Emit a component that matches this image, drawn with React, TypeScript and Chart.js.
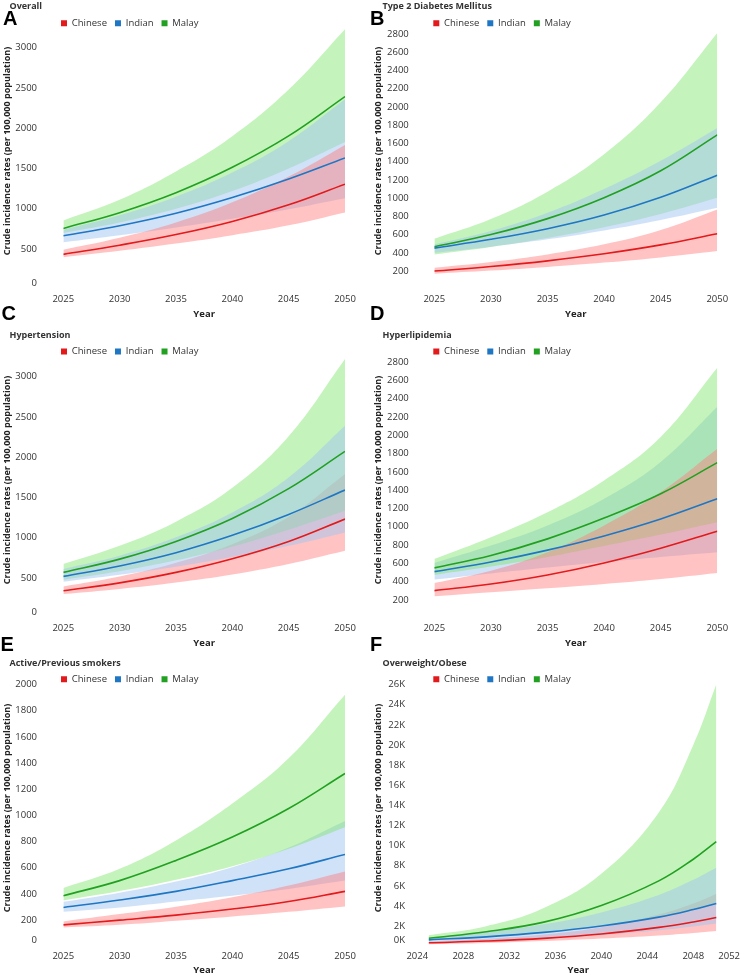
import React, { useEffect, useRef } from "react";
import { Chart, registerables } from "chart.js";

Chart.register(...registerables);

const FONT = "'Open Sans', 'Noto Sans', sans-serif";
Chart.defaults.font.family = FONT;

// ---------------- data ----------------
const YEARS = [2025, 2030, 2035, 2040, 2045, 2050];
const YEARS_F = [2025, 2030, 2035, 2040, 2045, 2048, 2050];
const SERIES = ["Chinese", "Indian", "Malay"];

const YEAR_TICKS = [2025, 2030, 2035, 2040, 2045, 2050];
const YEAR_TICKS_F = [2024, 2028, 2032, 2036, 2040, 2044, 2048, 2052];
const TICKS_0_3000 = [0, 500, 1000, 1500, 2000, 2500, 3000];
const TICKS_200_2800 = [200, 400, 600, 800, 1000, 1200, 1400, 1600, 1800, 2000, 2200, 2400, 2600, 2800];
const TICKS_0_2000 = [0, 200, 400, 600, 800, 1000, 1200, 1400, 1600, 1800, 2000];
const TICKS_0_26K = [0, 2000, 4000, 6000, 8000, 10000, 12000, 14000, 16000, 18000, 20000, 22000, 24000, 26000];

// A Overall
const A_CHINESE = [434, 548, 680, 843, 1050, 1306];
const A_CHINESE_LO = [397, 478, 568, 672, 795, 955];
const A_CHINESE_HI = [492, 640, 830, 1080, 1400, 1793];
const A_INDIAN = [665, 790, 945, 1140, 1370, 1632];
const A_INDIAN_LO = [583, 670, 767, 875, 995, 1132];
const A_INDIAN_HI = [740, 920, 1150, 1450, 1840, 2360];
const A_MALAY = [756, 952, 1200, 1515, 1905, 2393];
const A_MALAY_LO = [700, 830, 1000, 1220, 1500, 1830];
const A_MALAY_HI = [855, 1112, 1463, 1900, 2480, 3231];

// B Type 2 Diabetes Mellitus
const B_CHINESE = [200, 250, 312, 390, 487, 609];
const B_CHINESE_LO = [171, 205, 245, 293, 350, 419];
const B_CHINESE_HI = [237, 300, 383, 493, 650, 876];
const B_INDIAN = [452, 548, 665, 815, 1010, 1252];
const B_INDIAN_LO = [401, 468, 548, 645, 760, 894];
const B_INDIAN_HI = [492, 640, 840, 1100, 1410, 1770];
const B_MALAY = [467, 600, 775, 1005, 1300, 1694];
const B_MALAY_LO = [383, 465, 563, 680, 825, 1003];
const B_MALAY_HI = [554, 770, 1070, 1480, 2050, 2811];

// C Hypertension
const C_CHINESE = [343, 440, 570, 740, 955, 1233];
const C_CHINESE_LO = [301, 365, 445, 545, 675, 839];
const C_CHINESE_HI = [396, 520, 690, 920, 1260, 1791];
const C_INDIAN = [521, 650, 815, 1030, 1290, 1593];
const C_INDIAN_LO = [454, 540, 640, 760, 900, 1067];
const C_INDIAN_HI = [612, 777, 1005, 1315, 1750, 2392];
const C_MALAY = [570, 735, 955, 1240, 1610, 2073];
const C_MALAY_LO = [479, 585, 720, 890, 1100, 1336];
const C_MALAY_HI = [674, 900, 1200, 1620, 2260, 3219];

// D Hyperlipidemia
const D_CHINESE = [302, 375, 474, 605, 766, 952];
const D_CHINESE_LO = [240, 284, 328, 375, 430, 496];
const D_CHINESE_HI = [386, 521, 722, 1014, 1380, 1854];
const D_INDIAN = [510, 615, 745, 900, 1085, 1306];
const D_INDIAN_LO = [423, 490, 555, 615, 670, 722];
const D_INDIAN_HI = [605, 795, 1014, 1306, 1708, 2311];
const D_MALAY = [551, 686, 868, 1095, 1361, 1701];
const D_MALAY_LO = [474, 565, 670, 790, 915, 1051];
const D_MALAY_HI = [649, 887, 1160, 1507, 1982, 2738];

// E Active/Previous smokers
const E_CHINESE = [164, 200, 238, 285, 343, 420];
const E_CHINESE_LO = [144, 164, 195, 228, 264, 305];
const E_CHINESE_HI = [190, 246, 302, 374, 464, 571];
const E_INDIAN = [297, 354, 420, 502, 592, 702];
const E_INDIAN_LO = [264, 297, 343, 387, 438, 502];
const E_INDIAN_HI = [340, 410, 495, 605, 755, 958];
const E_MALAY = [387, 502, 656, 835, 1053, 1321];
const E_MALAY_LO = [350, 422, 508, 612, 745, 910];
const E_MALAY_HI = [446, 592, 809, 1091, 1437, 1923];

// F Overweight/Obese (years: YEARS_F)
const F_CHINESE = [350, 520, 790, 1220, 1880, 2420, 2860];
const F_CHINESE_LO = [210, 330, 520, 770, 1080, 1330, 1530];
const F_CHINESE_HI = [480, 760, 1170, 1900, 3150, 4250, 5200];
const F_INDIAN = [640, 940, 1380, 2020, 2900, 3650, 4260];
const F_INDIAN_LO = [420, 590, 820, 1140, 1600, 1970, 2260];
const F_INDIAN_HI = [800, 1400, 2180, 3370, 5100, 6600, 7800];
const F_MALAY = [800, 1450, 2400, 4050, 6500, 8650, 10400];
const F_MALAY_LO = [650, 950, 1400, 2050, 2900, 3600, 4300];
const F_MALAY_HI = [1100, 2000, 3800, 7200, 13300, 20000, 26000];

// ---------------- styles ----------------
const LINE_COLORS = ["#e31a1c", "#1f77c4", "#22a022"];
const BAND_COLORS = ["rgba(255,122,122,0.45)", "rgba(161,197,241,0.5)", "rgba(124,228,106,0.45)"];
const TICK_COLOR = "#333";
const TITLE_COLOR = "#222";
const TICK_SIZE = 9.5;
const LEGEND_SIZE = 9.5;
const LEGEND_BOX = 6;
const LEGEND_PAD = 8;
const TENSION = 0.4;
const Y_TITLE_LIFT = 15; // shifts the y-axis title's centre up by half of this

const plain = (v: any) => String(v);
const kfmt = (v: any) => Math.round(Number(v) / 1000) + "K";

type Panel = {
  letter: string;
  letterLeft: number;
  letterTop: number;
  title: string;
  titleLeft: number;
  titleTop: number;
  left: number;
  top: number;
  width: number;
  height: number;
  years: number[];
  mid: number[][];
  lo: number[][];
  hi: number[][];
  bandOrder: number[];
  yMax: number;
  yTicks: number[];
  yFmt: (v: any) => string;
  xMin: number;
  xMax: number;
  xTicks: number[];
  yAxisW: number;
  yTickPad: number;
  padRight: number;
  padBottom: number;
  xAxisH: number;
  legendX: number;
  legendY: number;
  zeroShift: number;
  lastXRight: boolean;
};

const PANELS: Panel[] = [
  {
    letter: "A", letterLeft: 3, letterTop: 8, title: "Overall", titleLeft: 9.5, titleTop: 0,
    left: 0, top: 0, width: 370, height: 325, years: YEARS,
    mid: [A_CHINESE, A_INDIAN, A_MALAY], lo: [A_CHINESE_LO, A_INDIAN_LO, A_MALAY_LO], hi: [A_CHINESE_HI, A_INDIAN_HI, A_MALAY_HI],
    bandOrder: [2, 1, 0], yMax: 3250, yTicks: TICKS_0_3000, yFmt: plain,
    xMin: 2025, xMax: 2050, xTicks: YEAR_TICKS,
    yAxisW: 63.3, yTickPad: 26.3, padRight: 25, padBottom: 5.3, xAxisH: 30.4,
    legendX: 61, legendY: 23.3, zeroShift: 6, lastXRight: false,
  },
  {
    letter: "B", letterLeft: 370, letterTop: 8, title: "Type 2 Diabetes Mellitus", titleLeft: 382.5, titleTop: 0,
    left: 371, top: 0, width: 369, height: 325, years: YEARS,
    mid: [B_CHINESE, B_INDIAN, B_MALAY], lo: [B_CHINESE_LO, B_INDIAN_LO, B_MALAY_LO], hi: [B_CHINESE_HI, B_INDIAN_HI, B_MALAY_HI],
    bandOrder: [2, 1, 0], yMax: 2870, yTicks: TICKS_200_2800, yFmt: plain,
    xMin: 2025, xMax: 2050, xTicks: YEAR_TICKS,
    yAxisW: 63.3, yTickPad: 25.5, padRight: 22.7, padBottom: 5.3, xAxisH: 30.4,
    legendX: 62.3, legendY: 23.3, zeroShift: 0, lastXRight: false,
  },
  {
    letter: "C", letterLeft: 1.5, letterTop: 303, title: "Hypertension", titleLeft: 9.5, titleTop: 328.5,
    left: 0, top: 328.5, width: 370, height: 325, years: YEARS,
    mid: [C_CHINESE, C_INDIAN, C_MALAY], lo: [C_CHINESE_LO, C_INDIAN_LO, C_MALAY_LO], hi: [C_CHINESE_HI, C_INDIAN_HI, C_MALAY_HI],
    bandOrder: [0, 2, 1], yMax: 3250, yTicks: TICKS_0_3000, yFmt: plain,
    xMin: 2025, xMax: 2050, xTicks: YEAR_TICKS,
    yAxisW: 63.3, yTickPad: 26.3, padRight: 25, padBottom: 5.3, xAxisH: 30.4,
    legendX: 61, legendY: 22.5, zeroShift: 6, lastXRight: false,
  },
  {
    letter: "D", letterLeft: 370, letterTop: 303, title: "Hyperlipidemia", titleLeft: 382.5, titleTop: 328.5,
    left: 371, top: 328.5, width: 369, height: 325, years: YEARS,
    mid: [D_CHINESE, D_INDIAN, D_MALAY], lo: [D_CHINESE_LO, D_INDIAN_LO, D_MALAY_LO], hi: [D_CHINESE_HI, D_INDIAN_HI, D_MALAY_HI],
    bandOrder: [1, 2, 0], yMax: 2860, yTicks: TICKS_200_2800, yFmt: plain,
    xMin: 2025, xMax: 2050, xTicks: YEAR_TICKS,
    yAxisW: 63.3, yTickPad: 25.5, padRight: 22.7, padBottom: 5.3, xAxisH: 30.4,
    legendX: 62.3, legendY: 22.5, zeroShift: 0, lastXRight: false,
  },
  {
    letter: "E", letterLeft: 0.5, letterTop: 634, title: "Active/Previous smokers", titleLeft: 9.5, titleTop: 656.5,
    left: 0, top: 657, width: 370, height: 319, years: YEARS,
    mid: [E_CHINESE, E_INDIAN, E_MALAY], lo: [E_CHINESE_LO, E_INDIAN_LO, E_MALAY_LO], hi: [E_CHINESE_HI, E_INDIAN_HI, E_MALAY_HI],
    bandOrder: [1, 2, 0], yMax: 2000, yTicks: TICKS_0_2000, yFmt: plain,
    xMin: 2025, xMax: 2050, xTicks: YEAR_TICKS,
    yAxisW: 63.3, yTickPad: 26.3, padRight: 25, padBottom: 0, xAxisH: 29.7,
    legendX: 61, legendY: 22.3, zeroShift: 6, lastXRight: false,
  },
  {
    letter: "F", letterLeft: 370, letterTop: 634, title: "Overweight/Obese", titleLeft: 382.5, titleTop: 656.5,
    left: 371, top: 657, width: 369, height: 319, years: YEARS_F,
    mid: [F_CHINESE, F_INDIAN, F_MALAY], lo: [F_CHINESE_LO, F_INDIAN_LO, F_MALAY_LO], hi: [F_CHINESE_HI, F_INDIAN_HI, F_MALAY_HI],
    bandOrder: [0, 2, 1], yMax: 26000, yTicks: TICKS_0_26K, yFmt: kfmt,
    xMin: 2024, xMax: 2052, xTicks: YEAR_TICKS_F,
    yAxisW: 46.3, yTickPad: 12.3, padRight: 0.7, padBottom: 0, xAxisH: 29.7,
    legendX: 62.3, legendY: 22.3, zeroShift: 6, lastXRight: true,
  },
];

// ---------------- plugin: legend placement & label nudges ----------------
const restoreY = (chart: any) => {
  const ys = chart.scales.y;
  if (ys && ys.$origBottom != null) {
    ys.bottom = ys.$origBottom;
    ys.$origBottom = null;
  }
};

const tweakPlugin = {
  id: "tweak",
  afterLayout(chart: any, _args: any, opts: any) {
    const lg = chart.legend;
    if (!lg || opts.legendX == null) return;
    const ih = Math.max(LEGEND_SIZE, LEGEND_BOX);
    const w = lg.right - lg.left;
    const h = lg.bottom - lg.top;
    lg.left = opts.legendX - LEGEND_PAD;
    lg.right = lg.left + w;
    lg.top = opts.legendY - LEGEND_PAD - ih / 2;
    lg.bottom = lg.top + h;
  },
  beforeDraw(chart: any, _args: any, opts: any) {
    const ys = chart.scales.y;
    if (ys) {
      const items = ys.getLabelItems();
      if (opts.zeroShift) {
        ys.ticks.forEach((t: any, i: number) => {
          if (t.value === 0 && items[i]) items[i].options.translation[1] -= opts.zeroShift;
        });
      }
      // only the axis title is drawn with this temporary bound
      ys.$origBottom = ys.bottom;
      ys.bottom -= Y_TITLE_LIFT;
    }
    if (opts.lastXRight && chart.scales.x) {
      const items = chart.scales.x.getLabelItems();
      const last = items[items.length - 1];
      if (last) {
        last.options.textAlign = "right";
        last.options.translation[0] = chart.width;
      }
    }
  },
  beforeDatasetsDraw(chart: any) {
    restoreY(chart);
  },
  afterDraw(chart: any) {
    restoreY(chart);
  },
};

function buildConfig(p: Panel): any {
  const pts = (vals: number[]) => p.years.map((x, i) => ({ x, y: vals[i] }));
  const datasets: any[] = [];
  for (let s = 0; s < 3; s++) {
    datasets.push({
      label: SERIES[s],
      data: pts(p.mid[s]),
      borderColor: LINE_COLORS[s],
      backgroundColor: LINE_COLORS[s],
      borderWidth: 1.6,
      pointRadius: 0,
      fill: false,
      tension: TENSION,
      order: 0,
    });
  }
  p.bandOrder.forEach((s, k) => {
    const ord = 3 - k;
    const loIdx = datasets.length;
    datasets.push({
      label: SERIES[s] + " lower",
      data: pts(p.lo[s]),
      borderWidth: 0,
      borderColor: "rgba(0,0,0,0)",
      showLine: false,
      pointRadius: 0,
      fill: false,
      tension: TENSION,
      order: ord,
    });
    datasets.push({
      label: SERIES[s] + " upper",
      data: pts(p.hi[s]),
      borderWidth: 0,
      borderColor: "rgba(0,0,0,0)",
      backgroundColor: BAND_COLORS[s],
      showLine: false,
      pointRadius: 0,
      fill: loIdx,
      tension: TENSION,
      order: ord,
    });
  });

  return {
    type: "line",
    data: { datasets },
    plugins: [tweakPlugin],
    options: {
      animation: false,
      responsive: false,
      events: [],
      layout: { padding: { top: 0.1, left: 0, right: p.padRight, bottom: p.padBottom } },
      plugins: {
        tooltip: { enabled: false },
        title: { display: false },
        legend: {
          display: true,
          position: "top",
          align: "start",
          labels: {
            boxWidth: LEGEND_BOX,
            boxHeight: LEGEND_BOX,
            padding: LEGEND_PAD,
            color: TICK_COLOR,
            font: { size: LEGEND_SIZE, family: FONT },
            generateLabels: (chart: any) =>
              Chart.defaults.plugins.legend.labels
                .generateLabels(chart)
                .filter((it: any) => it.datasetIndex < 3)
                .map((it: any) => ({ ...it, lineWidth: 0, fillStyle: LINE_COLORS[it.datasetIndex], strokeStyle: LINE_COLORS[it.datasetIndex] })),
          },
        },
        tweak: { legendX: p.legendX, legendY: p.legendY, zeroShift: p.zeroShift, lastXRight: p.lastXRight },
      },
      scales: {
        x: {
          type: "linear",
          min: p.xMin,
          max: p.xMax,
          afterBuildTicks: (s: any) => {
            s.ticks = p.xTicks.map((v) => ({ value: v }));
          },
          afterFit: (s: any) => {
            s.height = p.xAxisH;
            s.paddingLeft = 0;
            s.paddingRight = 0;
          },
          grid: { display: false, drawTicks: false },
          border: { display: false },
          ticks: { callback: plain, autoSkip: false, maxRotation: 0, padding: 4, color: TICK_COLOR, font: { size: TICK_SIZE } },
          title: { display: true, text: "Year", color: TITLE_COLOR, font: { size: 9.5, weight: "bold" }, padding: { top: 0, bottom: 0 } },
        },
        y: {
          type: "linear",
          min: 0,
          max: p.yMax,
          afterBuildTicks: (s: any) => {
            s.ticks = p.yTicks.map((v) => ({ value: v }));
          },
          afterFit: (s: any) => {
            s.width = p.yAxisW;
            s.paddingTop = 0;
            s.paddingBottom = 0;
          },
          grid: { display: false, drawTicks: false },
          border: { display: false },
          ticks: { callback: p.yFmt, autoSkip: false, padding: p.yTickPad, color: TICK_COLOR, font: { size: TICK_SIZE } },
          title: {
            display: true,
            text: "Crude incidence rates (per 100,000 population)",
            color: TITLE_COLOR,
            font: { size: 9, weight: "bold" },
            padding: { top: 2, bottom: 0 },
          },
        },
      },
    },
  };
}

function ChartPanel({ p }: { p: Panel }) {
  const ref = useRef<HTMLCanvasElement | null>(null);
  useEffect(() => {
    if (!ref.current) return;
    const chart = new Chart(ref.current, buildConfig(p));
    return () => chart.destroy();
  }, [p]);
  return (
    <div style={{ position: "absolute", left: p.left, top: p.top, width: p.width, height: p.height }}>
      <canvas ref={ref} width={p.width} height={p.height} style={{ display: "block", width: p.width, height: p.height }} />
    </div>
  );
}

export default function App() {
  return (
    <div style={{ position: "absolute", left: 0, top: 0, width: 740, height: 976, overflow: "hidden", background: "#fff" }}>
      {PANELS.map((p) => (
        <ChartPanel key={p.letter} p={p} />
      ))}
      {PANELS.map((p) => (
        <div
          key={"t" + p.letter}
          style={{ position: "absolute", left: p.titleLeft, top: p.titleTop, font: `bold 9px ${FONT}`, lineHeight: "11px", color: "#333", whiteSpace: "nowrap" }}
        >
          {p.title}
        </div>
      ))}
      {PANELS.map((p) => (
        <div
          key={"l" + p.letter}
          style={{ position: "absolute", left: p.letterLeft, top: p.letterTop, font: "bold 20px 'Liberation Sans', Arial, sans-serif", lineHeight: "20px", color: "#000" }}
        >
          {p.letter}
        </div>
      ))}
    </div>
  );
}
